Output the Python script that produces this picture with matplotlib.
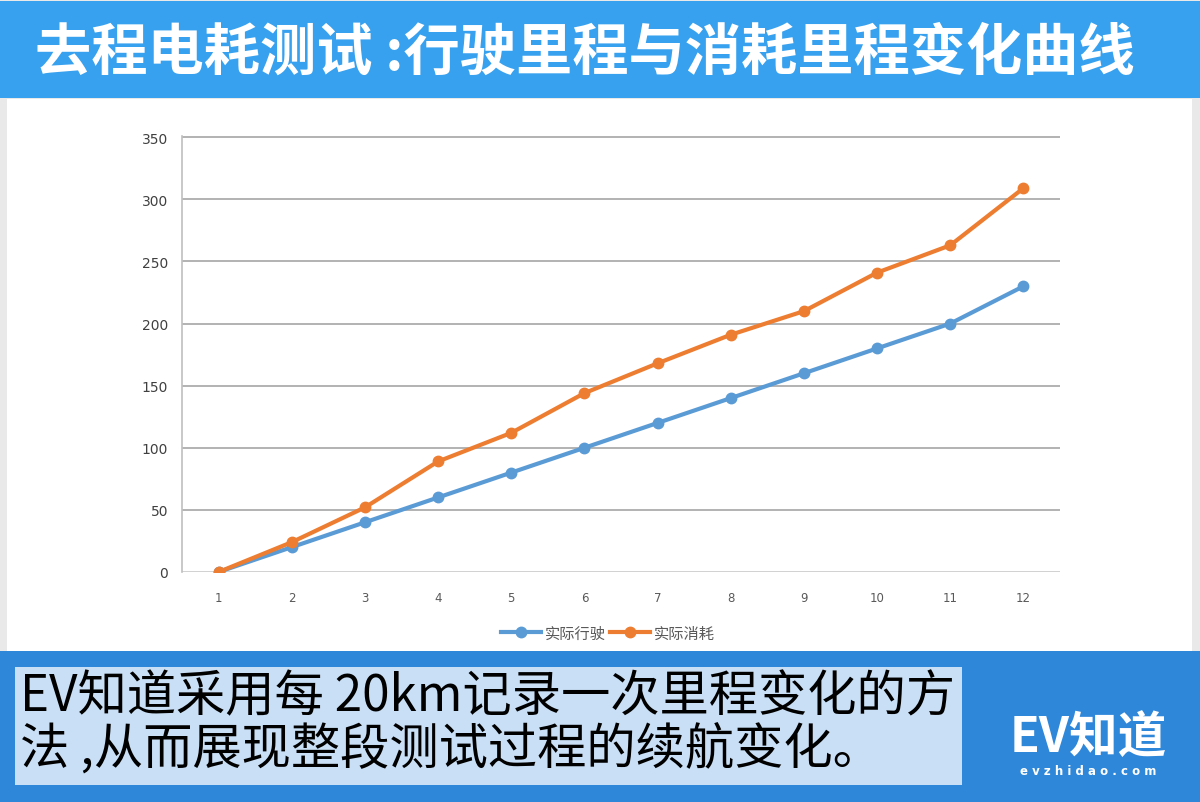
import matplotlib
matplotlib.use("Agg")
import matplotlib.pyplot as plt
from matplotlib.patches import Rectangle

plt.rcParams['font.family'] = ['Noto Sans CJK SC', 'DejaVu Sans']

points = [1, 2, 3, 4, 5, 6, 7, 8, 9, 10, 11, 12]
driven = [0, 20, 40, 60, 80, 100, 120, 140, 160, 180, 200, 230]
consumed = [0, 24, 52, 89, 112, 144, 168, 191, 210, 241, 263, 309]
yticks = [0, 50, 100, 150, 200, 250, 300, 350]

title = "去程电耗测试 :行驶里程与消耗里程变化曲线"
note_1 = "EV知道采用每 20km记录一次里程变化的方"
note_2 = "法 ,从而展现整段测试过程的续航变化。"

W, H = 1200, 803
fig = plt.figure(figsize=(12, 8.03), dpi=100)
fig.patch.set_facecolor('#E9E9E9')

def box(x, y, w, h, color):
    # pixel coords from top-left
    fig.patches.append(Rectangle((x / W, 1 - (y + h) / H), w / W, h / H,
                                 transform=fig.transFigure, facecolor=color,
                                 edgecolor='none', zorder=-5))

box(0, 2, 1200, 97, '#37A1EF')
box(7, 100, 1185, 552, 'white')
box(0, 652, 1200, 151, '#2F87DA')
box(15, 668, 947, 118, '#C9DFF5')

fig.text(35 / W, 1 - 53 / H, title, color='white', fontsize=40.5,
         fontweight='bold', va='center', ha='left')
fig.text(20 / W, 1 - 697 / H, note_1, color='black', fontsize=35.5,
         va='center', ha='left')
fig.text(20 / W, 1 - 751 / H, note_2, color='black', fontsize=35.5,
         va='center', ha='left')
fig.text(1088 / W, 1 - 737 / H, "EV知道", color='white', fontsize=35,
         fontweight='bold', style='italic', va='center', ha='center')
fig.text(1088 / W, 1 - 772 / H, "e v z h i d a o . c o m", color='white',
         fontsize=8.5, fontweight='bold', va='center', ha='center',
         family='DejaVu Sans')

ax = fig.add_axes([182 / W, 1 - 573 / H, (1060 - 182) / W, (573 - 137) / H])
ax.set_facecolor('white')
ax.plot(points, driven, color='#5B9BD5', lw=3, marker='o', ms=7.5,
        label='实际行驶')
ax.plot(points, consumed, color='#ED7D31', lw=3, marker='o', ms=7.5,
        label='实际消耗')
ax.set_xlim(0.5, 12.5)
ax.set_ylim(0, 351)
ax.set_yticks(yticks)
ax.set_xticks(points)
ax.grid(axis='y', color='#A6A6A6', lw=1.2)
ax.set_axisbelow(True)
for s in ['top', 'right', 'bottom']:
    ax.spines[s].set_visible(False)
ax.spines['left'].set_color('#BFBFBF')
ax.spines['left'].set_linewidth(1.2)
ax.axhline(0, color='#D9D9D9', lw=1.2, zorder=1)
ax.tick_params(axis='y', length=0, labelsize=10, labelcolor='#404040', pad=10)
ax.tick_params(axis='x', length=0, labelsize=8.5, labelcolor='#595959', pad=14)
for lbl in ax.get_xticklabels() + ax.get_yticklabels():
    lbl.set_family('DejaVu Sans')

ax.legend(loc='center', bbox_to_anchor=(608 / W, 1 - 634 / H),
          bbox_transform=fig.transFigure, ncol=2, frameon=False,
          fontsize=11, labelcolor='#595959', handlelength=2.6,
          columnspacing=0.3, handletextpad=0.25)

fig.savefig('out.png', dpi=100, facecolor=fig.get_facecolor())
